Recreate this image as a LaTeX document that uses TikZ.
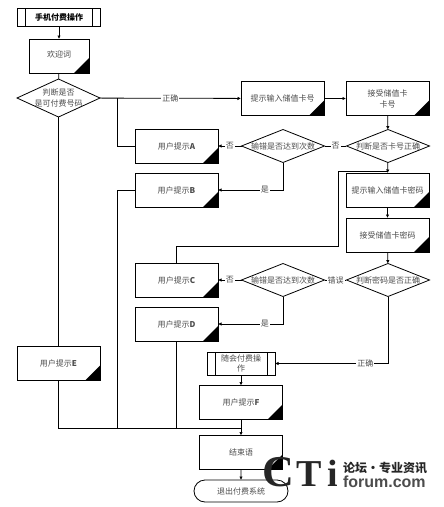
\documentclass[tikz,border=0pt]{standalone}
\usepackage{fontspec}
\setmainfont{Noto Sans CJK SC}
\newfontfamily\wmfont{Liberation Serif}
\newfontfamily\wmsans{Liberation Sans}
\usetikzlibrary{shapes.geometric,shapes.misc,arrows.meta,calc}
\definecolor{txt}{gray}{0.3}
\newcommand{\zw}[1]{\makebox[0pt]{#1}}
\tikzset{
  every node/.style={inner sep=0pt,outer sep=0pt,align=center,font=\fontsize{8}{11}\selectfont,text=txt},
  base/.style={draw=black,line width=0.8pt,fill=white},
  docbox/.style={base,rectangle,minimum width=#1,minimum height=34pt,
    path picture={\fill[black] (path picture bounding box.south east) -- ++(-15pt,0) -- ++(15pt,15pt) -- cycle;}},
  docbox/.default=83pt,
  dec/.style={base,diamond,aspect=2.5,minimum width=83pt,minimum height=33pt},
  subproc/.style={base,rectangle},
  term/.style={base,rounded rectangle,minimum width=94pt,minimum height=22pt},
  lab/.style={fill=white,inner sep=1pt},
  conn/.style={line width=0.8pt,draw=black},
  arr/.style={conn,-{Latex[length=3.5pt,width=3.5pt]}},
}
\begin{document}
\begin{tikzpicture}[x=1pt,y=-1pt]
\useasboundingbox (0,0) rectangle (444,507);

% nodes
\node[subproc,minimum width=83pt,minimum height=18pt,text=black] (start) at (59,17) {\textbf{手机付费操作}};
\draw[conn] ($(start.north west)+(8,0)$) -- ($(start.south west)+(8,0)$);
\draw[conn] ($(start.north east)+(-8,0)$) -- ($(start.south east)+(-8,0)$);
\node[docbox=60pt] (welcome) at (59,56) {\raisebox{3pt}{欢迎词}};
\node[dec,minimum height=38pt] (d1) at (58.5,98) {\zw{\smash{\raisebox{2.5pt}{判断是否}}}\\[-11pt]\zw{\smash{\raisebox{-8.5pt}{是可付费号码}}}};

\node[docbox] (A) at (176.5,146) {用户提示\textbf{A}};
\node[docbox] (B) at (176.5,190) {用户提示\textbf{B}};
\node[docbox] (C) at (176.5,280) {用户提示\textbf{C}};
\node[docbox] (D) at (176.5,324) {用户提示\textbf{D}};
\node[docbox] (E) at (58.5,363.5) {用户提示\textbf{E}};

\node[docbox] (p1) at (282.5,98.5) {提示输入储值卡号};
\node[docbox] (p2) at (387.5,98.5) {接受储值卡\\卡号};
\node[dec] (d2) at (388,146) {\zw{判断是否卡号正确}};
\node[dec] (d3) at (283,146) {\zw{输错是否达到次数}};
\node[docbox] (p3) at (387.5,190) {提示输入储值卡密码};
\node[docbox] (p4) at (387.5,235) {接受储值卡密码};
\node[dec] (d4) at (388,280) {\zw{判断密码是否正确}};
\node[dec] (d5) at (283,280) {\zw{输错是否达到次数}};

\node[subproc,minimum width=68pt,minimum height=23pt] (sub) at (241,363.5) {随会付费操\\[-1pt]作};
\draw[conn] ($(sub.north west)+(8,0)$) -- ($(sub.south west)+(8,0)$);
\draw[conn] ($(sub.north east)+(-8,0)$) -- ($(sub.south east)+(-8,0)$);
\node[docbox] (F) at (241,402.5) {用户提示\textbf{F}};
\node[docbox] (end) at (241,452.5) {结束语};
\node[term] (exit) at (241,491) {退出付费系统};

% helper coordinates
\coordinate (b1) at (117,98);
\coordinate (bus0) at (58.5,428);
\coordinate (bus1) at (117,428);
\coordinate (bus2) at (176.5,428);
\coordinate (bus3) at (241,428);
\coordinate (r1) at (388,171);
\coordinate (r2) at (338,171);
\coordinate (r3) at (338,246);
\coordinate (r4) at (176.5,246);
\coordinate (r5) at (388,363.5);

% connectors
\draw[arr] (start) -- (welcome);
\draw[conn] (welcome) -- (d1);
\draw[conn] (d1) -- (E);
\draw[arr] (d1) -- (p1) node[lab,pos=0.5] {正确};
\draw[conn] (b1) |- (A.west);
\draw[conn] (B.west) -| (bus1);
\draw[arr] (p1) -- (p2);
\draw[arr] (p2) -- (d2);
\draw[conn] (d2) -- (d3) node[midway,lab] {否};
\draw[arr] (d3) -- (A) node[midway,lab] {否};
\draw[arr] (d3.south) |- (B.east) node[pos=0.64,lab] {是};
\draw[arr] (d2) -- (p3);
\draw[arr] (p3) -- (p4);
\draw[arr] (p4) -- (d4);
\draw[conn] (r1) -- (r2) -- (r3) -- (r4) -- (C.north);
\draw[conn] (d4) -- (d5) node[midway,lab] {错误};
\draw[arr] (d5) -- (C) node[midway,lab] {否};
\draw[arr] (d5.south) |- (D.east) node[pos=0.64,lab] {是};
\draw[conn] (d4.south) -- (r5);
\draw[arr] (r5) -- (sub) node[pos=0.2,lab] {正确};
\draw[arr] (sub) -- (F);
\draw[conn] (D) -- (bus2);
\draw[conn] (E) -- (bus0) -- (bus3);
\draw[arr] (F) -- (end);
\draw[arr] (end) -- (exit);

% watermark
\node[text=black!85,font=\wmfont\bfseries\fontsize{44}{44}\selectfont,anchor=base] (wmC) at (278,486.5) {C};
\node[text=black!85,font=\wmfont\bfseries\fontsize{38}{38}\selectfont,anchor=base] (wmT) at (309,486) {T};
\node[text=black!85,font=\wmfont\bfseries\fontsize{38}{38}\selectfont,anchor=base] (wmI) at (333,486) {i};
\node[text=black!85,font=\fontsize{12}{12}\selectfont,anchor=west] (wm1) at (343,467.5) {\textbf{论坛·专业资讯}};
\node[text=black!70,font=\wmsans\bfseries\fontsize{16}{16}\selectfont,anchor=west] (wm2) at (343,481.5) {forum.com};
\end{tikzpicture}
\end{document}
